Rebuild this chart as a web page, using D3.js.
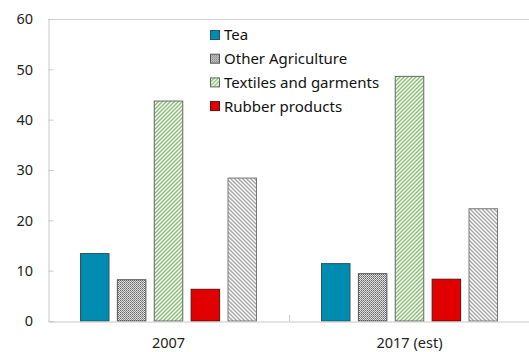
<!DOCTYPE html>
<html><head><meta charset="utf-8">
<script src="https://cdn.jsdelivr.net/npm/d3@7"></script>
<style>body{margin:0;background:#fff;}svg{display:block;font-family:"Noto Sans","Open Sans",sans-serif;}</style>
</head><body><svg id="c" width="529" height="352"></svg>
<script>
const categories = ["2007", "2017 (est)"];
const seriesNames = ["Tea", "Other Agriculture", "Textiles and garments", "Rubber products", "Other"];
const legendNames = ["Tea", "Other Agriculture", "Textiles and garments", "Rubber products"];
const tea = [13.5, 11.5];
const otherAgriculture = [8.3, 9.5];
const textiles = [43.8, 48.7];
const rubber = [6.4, 8.4];
const other = [28.5, 22.4];
const yTicks = [0, 10, 20, 30, 40, 50, 60];
const seriesValues = [tea, otherAgriculture, textiles, rubber, other];

const svg = d3.select("#c");
const m = {l: 48, t: 19, r: 529, b: 321};
const x0 = d3.scaleBand().domain(categories).range([m.l, m.r + 1]).paddingInner(0).paddingOuter(0);
const x1 = d3.scaleBand().domain(seriesNames).range([0, 177]).paddingInner(0.2).paddingOuter(0);
const y = d3.scaleLinear().domain([0, 60]).range([m.b, m.t]);

const defs = svg.append("defs");
function linePattern(id, color, dir, size, sw) {
  const p = defs.append("pattern").attr("id", id).attr("patternUnits", "userSpaceOnUse")
    .attr("width", size).attr("height", size);
  p.append("rect").attr("width", size).attr("height", size).attr("fill", "#fff");
  const d = dir > 0
    ? `M0,${size} L${size},0 M${-size/2},${size/2} L${size/2},${-size/2} M${size/2},${size*1.5} L${size*1.5},${size/2}`
    : `M0,0 L${size},${size} M${-size/2},${size/2} L${size/2},${size*1.5} M${size/2},${-size/2} L${size*1.5},${size/2}`;
  p.append("path").attr("d", d).attr("stroke", color).attr("stroke-width", sw);
}
linePattern("pTex", "#86c06f", 1, 4, 1.4);
linePattern("pOth", "#a6a6a6", -1, 4, 1.4);
const pa = defs.append("pattern").attr("id", "pAgr").attr("patternUnits", "userSpaceOnUse").attr("width", 2).attr("height", 2);
pa.append("rect").attr("width", 2).attr("height", 2).attr("fill", "#e0e0e0");
pa.append("rect").attr("width", 1).attr("height", 1).attr("fill", "#666");
pa.append("rect").attr("x", 1).attr("y", 1).attr("width", 1).attr("height", 1).attr("fill", "#8a8a8a");

const fills = {"Tea": "#008bb0", "Other Agriculture": "url(#pAgr)", "Textiles and garments": "url(#pTex)", "Rubber products": "#e00000", "Other": "url(#pOth)"};
const strokes = {"Tea": "#2b5563", "Other Agriculture": "#555", "Textiles and garments": "#666", "Rubber products": "#5a1010", "Other": "#777"};

svg.append("line").attr("x1", m.l).attr("x2", m.r).attr("y1", m.t + 0.5).attr("y2", m.t + 0.5).attr("stroke", "#d0d0d0");
const yAxis = svg.append("g").attr("transform", `translate(${m.l + 0.5},0)`)
  .call(d3.axisRight(y).tickValues(yTicks).tickSize(5).tickFormat(""));
yAxis.select(".domain").attr("stroke", "#c8c8c8");
yAxis.selectAll(".tick line").attr("stroke", "#c8c8c8");
svg.append("g").selectAll("text").data(yTicks).join("text")
  .attr("x", 33).attr("y", d => y(d)).attr("dy", "0.36em").attr("text-anchor", "end")
  .attr("font-size", 14.5).attr("fill", "#222").text(d => d);

const groups = svg.append("g").selectAll("g").data(categories).join("g")
  .attr("transform", d => `translate(${x0(d) + (x0.bandwidth() - 177) / 2},0)`);
groups.selectAll("rect").data((c, ci) => seriesNames.map((s, si) => ({s, v: seriesValues[si][ci]})))
  .join("rect")
  .attr("x", d => x1(d.s) + 0.5).attr("width", x1.bandwidth() - 1)
  .attr("y", d => y(d.v) + 0.5).attr("height", d => y(0) - y(d.v) - 0.5)
  .attr("fill", d => fills[d.s]).attr("stroke", d => strokes[d.s]).attr("stroke-width", 1);

const xAxis = svg.append("g").attr("transform", `translate(0,${m.b + 0.5})`)
  .call(d3.axisTop(x0).tickSize(0).tickFormat(""));
xAxis.select(".domain").attr("stroke", "#c8c8c8");
svg.append("line").attr("x1", x0(categories[1]) + 0.5).attr("x2", x0(categories[1]) + 0.5)
  .attr("y1", m.b).attr("y2", m.b - 6).attr("stroke", "#c8c8c8");
svg.append("g").selectAll("text").data(categories).join("text")
  .attr("x", d => x0(d) + x0.bandwidth() / 2).attr("y", 343).attr("dy", "0.36em")
  .attr("text-anchor", "middle").attr("font-size", 14.5).attr("fill", "#222").text(d => d);

const lg = svg.append("g").attr("transform", "translate(210,35)");
const li = lg.selectAll("g").data(legendNames).join("g").attr("transform", (d, i) => `translate(0,${i * 23.7})`);
li.append("rect").attr("x", 0.5).attr("y", -4.5).attr("width", 9).attr("height", 9)
  .attr("fill", d => fills[d]).attr("stroke", d => strokes[d]);
li.append("text").attr("x", 14).attr("y", 0).attr("dy", "0.36em").attr("font-size", 15).attr("fill", "#111").text(d => d);
</script></body></html>
